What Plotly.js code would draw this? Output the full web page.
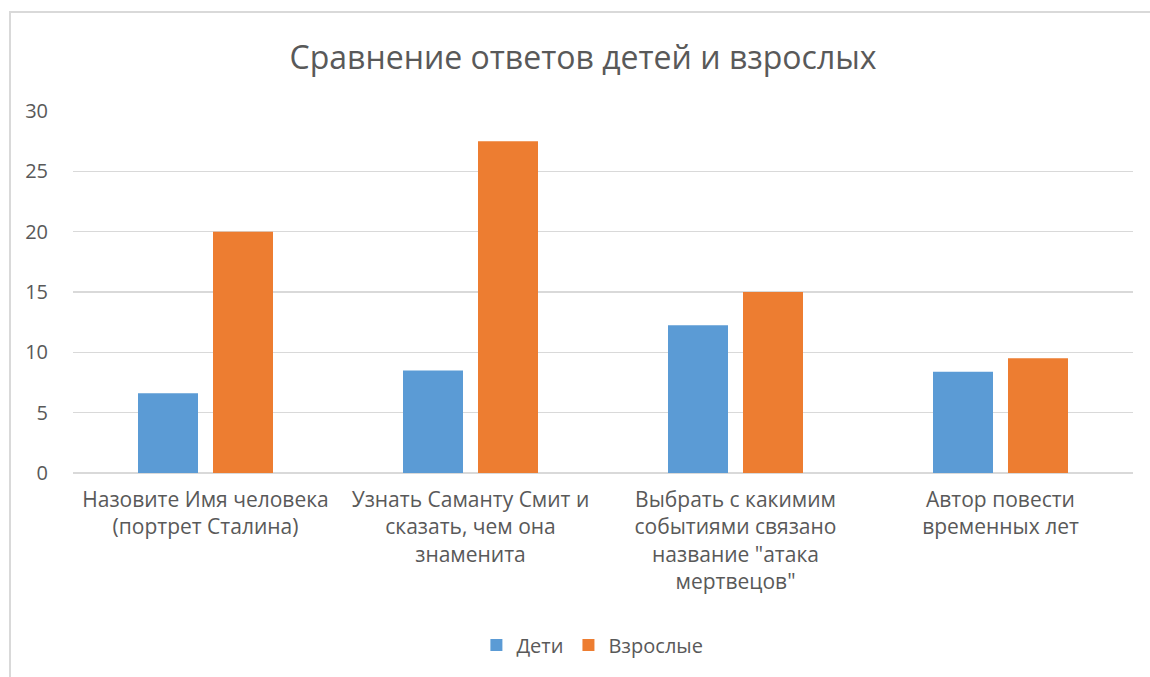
<!DOCTYPE html>
<html>
<head>
<meta charset="utf-8">
<script src="https://cdn.plot.ly/plotly-3.0.1.min.js"></script>
<style>
  html, body { margin: 0; padding: 0; background: #ffffff; }
  #wrap { position: relative; width: 1150px; height: 677px; overflow: hidden; }
  #frame { position: absolute; left: 9px; top: 11px; width: 1200px; height: 700px;
           border-left: 2px solid #d9d9d9; border-top: 2px solid #d9d9d9; pointer-events: none; }
  #chart { position: absolute; left: 0; top: 0; width: 1150px; height: 677px; }
</style>
</head>
<body>
<div id="wrap">
  <div id="chart"></div>
  <div id="frame"></div>
</div>
<script>
const categories = [
  "Назовите Имя человека<br>(портрет Сталина)",
  "Узнать Саманту Смит и<br>сказать, чем она<br>знаменита",
  "Выбрать с какимим<br>событиями связано<br>название \"атака<br>мертвецов\"",
  "Автор повести<br>временных лет"
];
const seriesNames = ["Дети", "Взрослые"];
const childrenValues = [6.6, 8.5, 12.25, 8.4];
const adultValues = [20, 27.5, 15, 9.5];
const yTicks = [0, 5, 10, 15, 20, 25, 30];
const titleText = "Сравнение ответов детей и взрослых";

const fontFamily = "'Open Sans', 'Noto Sans', sans-serif";
const textColor = "#595959";

const data = [
  { type: "bar", name: seriesNames[0], x: categories, y: childrenValues,
    marker: { color: "#5b9bd5" }, hoverinfo: "none" },
  { type: "bar", name: seriesNames[1], x: categories, y: adultValues,
    marker: { color: "#ed7d31" }, hoverinfo: "none" }
];

const layout = {
  width: 1150, height: 677,
  paper_bgcolor: "#ffffff", plot_bgcolor: "#ffffff",
  margin: { l: 73, r: 17, t: 111, b: 204 },
  title: { text: titleText, x: 0.507, xanchor: "center", y: 0.915, yanchor: "middle",
           font: { family: fontFamily, size: 32, color: textColor } },
  barmode: "group",
  bargap: 0.434,
  bargroupgap: 0.2,
  showlegend: true,
  legend: { orientation: "h", x: 0.49, xanchor: "center", y: -0.475, yanchor: "middle",
            font: { family: fontFamily, size: 20, color: textColor }, itemwidth: 30 },
  xaxis: {
    type: "category",
    tickfont: { family: fontFamily, size: 21, color: textColor },
    showgrid: false, zeroline: false, showline: false, ticks: "",
    ticklabelstandoff: 12, automargin: false, tickangle: 0
  },
  yaxis: {
    range: [0, 30], tickvals: yTicks, ticktext: yTicks.map(String),
    tickfont: { family: fontFamily, size: 20, color: textColor },
    showgrid: true, gridcolor: "#d9d9d9", gridwidth: 1.5,
    zeroline: true, zerolinecolor: "#d9d9d9", zerolinewidth: 1.5,
    showline: false, ticks: "", ticklabelstandoff: 24, automargin: false
  }
};

Plotly.newPlot("chart", data, layout, { displayModeBar: false, staticPlot: true });
</script>
</body>
</html>
